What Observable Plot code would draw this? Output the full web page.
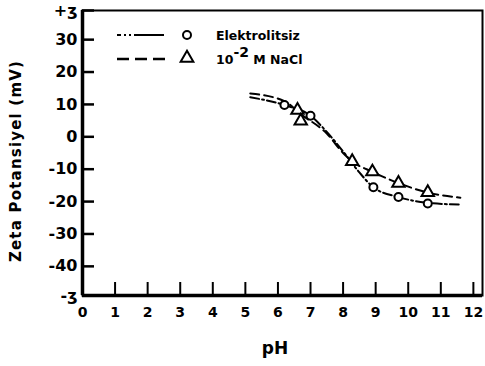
<!DOCTYPE html>
<html>
<head>
<meta charset="utf-8">
<script src="https://cdn.jsdelivr.net/npm/d3@7"></script>
<script src="https://cdn.jsdelivr.net/npm/@observablehq/plot@0.6"></script>
<style>
  html, body { margin: 0; padding: 0; background: white; }
  #chart { position: relative; width: 485px; height: 366px; }
</style>
</head>
<body>
<div id="chart"></div>
<script>
// ---- data ----
const xTicks = [0, 1, 2, 3, 4, 5, 6, 7, 8, 9, 10, 11, 12];
const yTicks = [-49, -40, -30, -20, -10, 0, 10, 20, 30, 39];
const yTickLabels = ["-ʒ", "-40", "-30", "-20", "-10", "0", "10", "20", "30", "+ʒ"];

// Elektrolitsiz (circles)
const phCircle = [6.2, 7.0, 8.93, 9.7, 10.6];
const zetaCircle = [9.8, 6.5, -15.6, -18.6, -20.6];
// 10^-2 M NaCl (triangles)
const phTri = [6.6, 6.7, 8.28, 8.9, 9.7, 10.6];
const zetaTri = [8.2, 4.9, -7.6, -10.8, -14.3, -17.2];

// fitted curves as drawn
const phCurveA = [5.15, 6.2, 7.0, 7.5, 8.0, 8.5, 8.93, 9.7, 10.6, 11.55];
const zetaCurveA = [12.2, 9.8, 6.5, 1.5, -4.5, -11, -15.6, -18.6, -20.4, -20.9];
const phCurveB = [5.15, 6.2, 6.7, 7.5, 8.0, 8.28, 8.9, 9.7, 10.6, 11.6];
const zetaCurveB = [13.4, 11, 7, 1, -5, -7.6, -10.8, -14.3, -17.2, -18.8];

const seriesNames = ["Elektrolitsiz", "10", "-2", " M NaCl"];

const zip = (xs, ys) => xs.map((x, i) => ({ph: x, z: ys[i]}));
const circles = zip(phCircle, zetaCircle);
const tris = zip(phTri, zetaTri);
const curveA = zip(phCurveA, zetaCurveA);
const curveB = zip(phCurveB, zetaCurveB);
const yLabelMap = new Map(yTicks.map((t, i) => [t, yTickLabels[i]]));

const font = "DejaVu Sans";

const chart = Plot.plot({
  width: 485,
  height: 366,
  marginLeft: 82,
  marginRight: 3,
  marginTop: 10,
  marginBottom: 71,
  x: {domain: [0, 12.28]},
  y: {domain: [-49, 39]},
  style: {fontFamily: font, fontWeight: "bold", background: "white", color: "black"},
  marks: [
    Plot.frame({strokeWidth: 2}),
    Plot.axisX({ticks: xTicks, tickSize: -13, tickPadding: 25, tickFormat: d => String(d),
      fontSize: 14, strokeWidth: 2, label: null}),
    Plot.axisY({ticks: yTicks, tickSize: -12, tickPadding: 17, tickFormat: d => yLabelMap.get(d),
      fontSize: 16, strokeWidth: 2.5, label: null}),
    Plot.ruleX([0], {strokeWidth: 3.5}),
    Plot.ruleY([-49], {strokeWidth: 3.5}),
    Plot.line(curveA, {x: "ph", y: "z", curve: "monotone-x", strokeWidth: 2, strokeDasharray: "9,3,2,3"}),
    Plot.line(curveB, {x: "ph", y: "z", curve: "monotone-x", strokeWidth: 2, strokeDasharray: "9,5"}),
    Plot.dot(circles, {x: "ph", y: "z", r: 4, stroke: "black", fill: "white", strokeWidth: 2}),
    Plot.dot(tris, {x: "ph", y: "z", symbol: "triangle", r: 4.6, stroke: "black", fill: "white", strokeWidth: 2})
  ]
});

document.getElementById("chart").appendChild(chart);

const svg = d3.select(chart);
// axis titles
svg.append("text")
  .attr("transform", "translate(21,161) rotate(-90)")
  .attr("text-anchor", "middle")
  .attr("font-family", font).attr("font-weight", "bold").attr("font-size", 15)
  .attr("letter-spacing", 1.2)
  .text("Zeta Potansiyel (mV)");
svg.append("text")
  .attr("x", 275).attr("y", 354)
  .attr("text-anchor", "middle")
  .attr("font-family", font).attr("font-weight", "bold").attr("font-size", 17)
  .text("pH");

// legend
const lg = svg.append("g").attr("font-family", font).attr("font-weight", "bold").attr("text-anchor", "start");
lg.append("line").attr("x1", 117).attr("x2", 168).attr("y1", 35).attr("y2", 35)
  .attr("stroke", "black").attr("stroke-width", 2).attr("stroke-dasharray", "4,3,2,3,2,3,30");
lg.append("circle").attr("cx", 187).attr("cy", 35).attr("r", 4)
  .attr("fill", "white").attr("stroke", "black").attr("stroke-width", 2);
lg.append("text").attr("x", 216).attr("y", 40).attr("font-size", 12.5).text(seriesNames[0]);
lg.append("line").attr("x1", 117).attr("x2", 170).attr("y1", 59).attr("y2", 59)
  .attr("stroke", "black").attr("stroke-width", 2.5).attr("stroke-dasharray", "12,6");
lg.append("path").attr("d", d3.symbol(d3.symbolTriangle, 70)())
  .attr("transform", "translate(187,58)")
  .attr("fill", "white").attr("stroke", "black").attr("stroke-width", 2);
const t2 = lg.append("text").attr("x", 216).attr("y", 64).attr("font-size", 12.5);
t2.append("tspan").text(seriesNames[1]);
t2.append("tspan").attr("dy", -7).attr("font-size", 14).text(seriesNames[2]);
t2.append("tspan").attr("dy", 7).text(seriesNames[3]);
</script>
</body>
</html>
